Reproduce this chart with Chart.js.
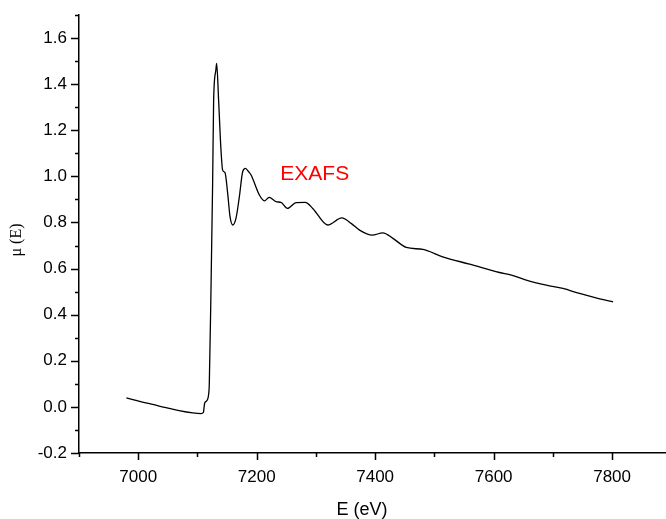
<!DOCTYPE html>
<html>
<head>
<meta charset="utf-8">
<script src="https://cdn.jsdelivr.net/npm/chart.js@4/dist/chart.umd.min.js"></script>
<style>
  html, body { margin: 0; padding: 0; background: #fff; }
  #wrap { width: 666px; height: 519px; position: relative; }
</style>
</head>
<body>
<div id="wrap"><canvas id="xasChart"></canvas></div>
<script>
// Fe K-edge absorption spectrum
const energy = [
  6980, 7013, 7047, 7069, 7092, 7106, 7110, 7112, 7115.5, 7119,
  7120, 7123, 7125.6, 7127.3, 7131, 7132.4, 7135.7, 7139.7, 7142.5, 7146.5,
  7151, 7155, 7159.4, 7165, 7170.7, 7176.3, 7181, 7186.5, 7190.5, 7204.5,
  7213, 7221, 7232.8, 7241, 7252, 7266.5, 7282, 7294.6, 7320, 7343.6,
  7360, 7373.6, 7395, 7413, 7430, 7452.5, 7480.6, 7514, 7559.5, 7610,
  7630, 7655, 7689, 7717, 7745, 7779, 7801.7
];
const mu = [
  0.039, 0.017, -0.003, -0.016, -0.026, -0.029, -0.024, 0.015, 0.026, 0.058,
  0.10, 0.535, 0.97, 1.33, 1.46, 1.49, 1.33, 1.114, 1.027, 1.016,
  0.926, 0.825, 0.789, 0.818, 0.911, 1.02, 1.035, 1.02, 1.006, 0.919,
  0.894, 0.909, 0.890, 0.887, 0.861, 0.886, 0.887, 0.861, 0.789, 0.820,
  0.795, 0.767, 0.745, 0.755, 0.731, 0.692, 0.683, 0.651, 0.619, 0.583,
  0.572, 0.550, 0.528, 0.514, 0.492, 0.469, 0.456
];
const xRange = [6900, 7891];
const yRange = [-0.2, 1.7];
const xTicks = [7000, 7200, 7400, 7600, 7800];
const xMinorTicks = [6900, 7100, 7300, 7500, 7700];
const yTicks = [-0.2, 0.0, 0.2, 0.4, 0.6, 0.8, 1.0, 1.2, 1.4, 1.6];
const yMinorTicks = [-0.1, 0.1, 0.3, 0.5, 0.7, 0.9, 1.1, 1.3, 1.5, 1.7];
const xTitle = 'E (eV)';
const yTitle = 'μ (E)';
const regionLabel = { text: 'EXAFS', x: 7298, y: 1.01 };

const points = energy.map((e, i) => ({ x: e, y: mu[i] }));
const tickFont = { family: '"Liberation Sans", Arial, sans-serif', size: 17 };

// outward tick marks: long on labelled values, short in between
const tickMarks = {
  id: 'tickMarks',
  afterDraw(chart) {
    const ctx = chart.ctx;
    const xs = chart.scales.x, ys = chart.scales.y;
    ctx.save();
    ctx.strokeStyle = '#000';
    ctx.lineWidth = 1.5;
    ctx.beginPath();
    const xMark = (v, len) => {
      const px = Math.round(xs.getPixelForValue(v)) + 0.5;
      ctx.moveTo(px, xs.top);
      ctx.lineTo(px, xs.top + len);
    };
    const yMark = (v, len) => {
      const py = Math.round(ys.getPixelForValue(v)) + 0.5;
      ctx.moveTo(ys.right, py);
      ctx.lineTo(ys.right - len, py);
    };
    xTicks.forEach(v => xMark(v, 7));
    xMinorTicks.forEach(v => xMark(v, 4));
    yTicks.forEach(v => yMark(v, 8));
    yMinorTicks.forEach(v => yMark(v, 4));
    ctx.stroke();

    // axis titles
    ctx.fillStyle = '#000';
    ctx.textAlign = 'center';
    ctx.textBaseline = 'middle';
    ctx.font = '18px "Liberation Sans", Arial, sans-serif';
    ctx.fillText(xTitle, 362, 510);
    ctx.translate(17, 240);
    ctx.rotate(-Math.PI / 2);
    ctx.font = '16px "Liberation Serif", "Times New Roman", serif';
    ctx.fillText(yTitle, 0, 0);
    ctx.restore();

    // region annotation
    ctx.save();
    ctx.fillStyle = '#ff0000';
    ctx.textAlign = 'center';
    ctx.textBaseline = 'middle';
    ctx.font = '21px "Liberation Sans", Arial, sans-serif';
    ctx.fillText(regionLabel.text, xs.getPixelForValue(regionLabel.x), ys.getPixelForValue(regionLabel.y));
    ctx.restore();
  }
};

// fixed axis sizes, no extra room reserved for edge labels
const fixScale = size => scale => {
  if (scale.isHorizontal()) scale.height = size; else scale.width = size;
  scale.paddingTop = 0;
  scale.paddingBottom = 0;
  scale.paddingLeft = 0;
  scale.paddingRight = 0;
};

const ctx = document.getElementById('xasChart').getContext('2d');
new Chart(ctx, {
  type: 'line',
  data: {
    datasets: [{
      data: points,
      borderColor: '#000',
      borderWidth: 1.3,
      pointRadius: 0,
      fill: false,
      cubicInterpolationMode: 'monotone'
    }]
  },
  options: {
    responsive: true,
    maintainAspectRatio: false,
    animation: false,
    layout: { padding: { top: 15, right: 0, left: 0, bottom: 0 } },
    plugins: {
      legend: { display: false },
      tooltip: { enabled: false }
    },
    scales: {
      x: {
        type: 'linear',
        min: xRange[0],
        max: xRange[1],
        grid: { display: false, drawTicks: false },
        border: { display: true, color: '#000', width: 1.5 },
        afterBuildTicks: scale => { scale.ticks = xTicks.map(v => ({ value: v })); },
        afterFit: fixScale(66),
        ticks: {
          autoSkip: false,
          maxRotation: 0,
          padding: 14,
          color: '#000',
          font: tickFont,
          callback: v => String(v)
        }
      },
      y: {
        min: yRange[0],
        max: yRange[1],
        grid: { display: false, drawTicks: false },
        border: { display: true, color: '#000', width: 1.5 },
        afterBuildTicks: scale => { scale.ticks = yTicks.map(v => ({ value: v })); },
        afterFit: fixScale(79),
        ticks: {
          autoSkip: false,
          padding: 12,
          color: '#000',
          font: tickFont,
          callback: v => v.toFixed(1)
        }
      }
    }
  },
  plugins: [tickMarks]
});
</script>
</body>
</html>
